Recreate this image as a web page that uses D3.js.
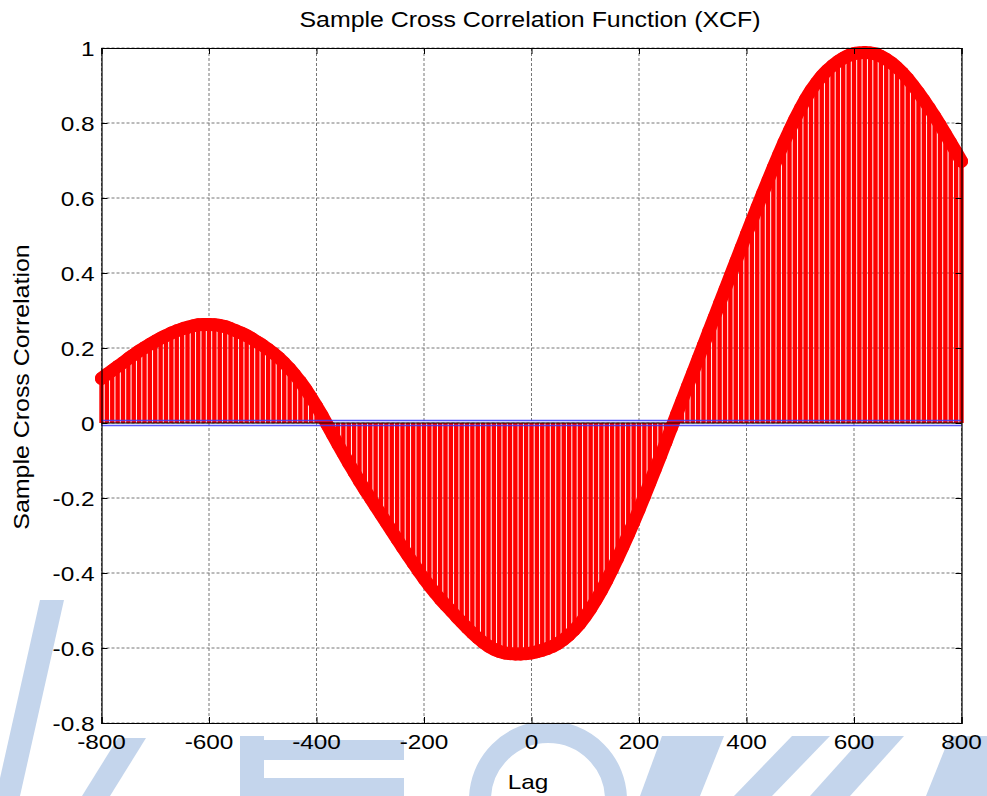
<!DOCTYPE html>
<html>
<head>
<meta charset="utf-8">
<script src="https://cdn.jsdelivr.net/npm/d3@7"></script>
<style>
  body { margin: 0; background: #fff; }
  svg { display: block; }
  text { font-family: Arial, "Liberation Sans", Helvetica, sans-serif; fill: #000; }
</style>
</head>
<body>
<svg width="987" height="796"></svg>
<script>
"use strict";

var lags = [
    -800, -790, -780, -770, -760, -750, -740, -730, -720, -710,
    -700, -690, -680, -670, -660, -650, -640, -630, -620, -610,
    -600, -590, -580, -570, -560, -550, -540, -530, -520, -510,
    -500, -490, -480, -470, -460, -450, -440, -430, -420, -410,
    -400, -390, -380, -370, -360, -350, -340, -330, -320, -310,
    -300, -290, -280, -270, -260, -250, -240, -230, -220, -210,
    -200, -190, -180, -170, -160, -150, -140, -130, -120, -110,
    -100, -90, -80, -70, -60, -50, -40, -30, -20, -10,
    0, 10, 20, 30, 40, 50, 60, 70, 80, 90,
    100, 110, 120, 130, 140, 150, 160, 170, 180, 190,
    200, 210, 220, 230, 240, 250, 260, 270, 280, 290,
    300, 310, 320, 330, 340, 350, 360, 370, 380, 390,
    400, 410, 420, 430, 440, 450, 460, 470, 480, 490,
    500, 510, 520, 530, 540, 550, 560, 570, 580, 590,
    600, 610, 620, 630, 640, 650, 660, 670, 680, 690,
    700, 710, 720, 730, 740, 750, 760, 770, 780, 790,
    800
];

var xcf = [
    0.119, 0.130, 0.140, 0.151, 0.161, 0.172, 0.182, 0.192, 0.201, 0.210,
    0.218, 0.226, 0.233, 0.240, 0.246, 0.251, 0.255, 0.259, 0.262, 0.263,
    0.263, 0.262, 0.260, 0.257, 0.252, 0.246, 0.240, 0.233, 0.225, 0.216,
    0.207, 0.197, 0.186, 0.174, 0.160, 0.145, 0.128, 0.110, 0.090, 0.068,
    0.045, 0.021, -0.005, -0.031, -0.057, -0.082, -0.107, -0.131, -0.155, -0.178,
    -0.200, -0.222, -0.244, -0.266, -0.288, -0.310, -0.332, -0.353, -0.374, -0.395,
    -0.415, -0.434, -0.452, -0.469, -0.485, -0.500, -0.516, -0.531, -0.546, -0.560,
    -0.573, -0.585, -0.595, -0.603, -0.609, -0.613, -0.615, -0.616, -0.616, -0.615,
    -0.613, -0.610, -0.606, -0.601, -0.595, -0.587, -0.577, -0.565, -0.551, -0.535,
    -0.516, -0.495, -0.472, -0.447, -0.420, -0.391, -0.361, -0.330, -0.298, -0.265,
    -0.231, -0.196, -0.160, -0.124, -0.088, -0.051, -0.014, 0.023, 0.060, 0.097,
    0.134, 0.171, 0.208, 0.245, 0.282, 0.319, 0.356, 0.393, 0.430, 0.467,
    0.504, 0.540, 0.576, 0.612, 0.647, 0.682, 0.716, 0.749, 0.780, 0.810,
    0.838, 0.864, 0.887, 0.907, 0.925, 0.940, 0.953, 0.964, 0.973, 0.980,
    0.985, 0.987, 0.988, 0.987, 0.984, 0.978, 0.970, 0.960, 0.948, 0.934,
    0.918, 0.900, 0.881, 0.861, 0.840, 0.818, 0.795, 0.771, 0.747, 0.723,
    0.698
];

// confidence bounds (upper, lower)
var bounds = [0.0065, -0.0065];

var xTicks = [-800, -600, -400, -200, 0, 200, 400, 600, 800];
var yTicks = [-0.8, -0.6, -0.4, -0.2, 0, 0.2, 0.4, 0.6, 0.8, 1];

var titleText = 'Sample Cross Correlation Function (XCF)';
var xLabelText = 'Lag';
var yLabelText = 'Sample Cross Correlation';

var plotL = 101.5, plotR = 961.5, plotT = 48, plotB = 723;
var stretch = 1.16;

var x = d3.scaleLinear().domain([-800, 800]).range([plotL, plotR]);
var y = d3.scaleLinear().domain([-0.8, 1]).range([plotB, plotT]);

var points = lags.map(function (lag, i) {
    return { lag: lag, v: xcf[i] };
});

var svg = d3.select('svg');

svg.append('rect')
    .attr('width', 987)
    .attr('height', 796)
    .attr('fill', '#fff');

// faint logo watermark behind the figure (rough)
var wm = svg.append('g')
    .attr('fill', '#c4d5ec')
    .attr('stroke', 'none');
wm.append('path').attr('d', 'M40,600 L64,600 L20,796 L-4,796 Z');
wm.append('path').attr('d', 'M118,738 L146,738 L110,796 L82,796 Z');
wm.append('rect').attr('x', 240).attr('y', 736).attr('width', 24).attr('height', 60);
wm.append('rect').attr('x', 264).attr('y', 740).attr('width', 140).attr('height', 20);
wm.append('rect').attr('x', 264).attr('y', 778).attr('width', 140).attr('height', 18);
wm.append('circle').attr('cx', 548).attr('cy', 800).attr('r', 68)
    .attr('fill', 'none').attr('stroke', '#c4d5ec').attr('stroke-width', 22);
wm.append('path').attr('d', 'M662,736 L724,736 L700,796 L640,796 Z');
wm.append('path').attr('d', 'M792,736 L830,736 L772,796 L734,796 Z');
wm.append('path').attr('d', 'M864,736 L904,736 L850,796 L810,796 Z');
wm.append('path').attr('d', 'M950,736 L987,736 L987,796 L926,796 Z');

// plot area
svg.append('rect')
    .attr('x', plotL)
    .attr('y', plotT)
    .attr('width', plotR - plotL)
    .attr('height', plotB - plotT)
    .attr('fill', '#fff');

// Grid
var grid = svg.append('g').attr('class', 'grid');
grid.selectAll('line.gx')
    .data(xTicks)
    .enter()
    .append('line')
    .attr('x1', function (d) { return x(d); })
    .attr('x2', function (d) { return x(d); })
    .attr('y1', plotT)
    .attr('y2', plotB);
grid.selectAll('line.gy')
    .data(yTicks)
    .enter()
    .append('line')
    .attr('x1', plotL)
    .attr('x2', plotR)
    .attr('y1', function (d) { return y(d); })
    .attr('y2', function (d) { return y(d); });
grid.selectAll('line')
    .attr('stroke', '#777')
    .attr('stroke-width', 1)
    .attr('stroke-dasharray', '3,2');

// Stems
svg.append('g')
    .selectAll('line.stem')
    .data(points)
    .enter()
    .append('line')
    .classed('stem', true)
    .attr('x1', function (d) { return x(d.lag); })
    .attr('x2', function (d) { return x(d.lag); })
    .attr('y1', y(0))
    .attr('y2', function (d) { return y(d.v); })
    .attr('stroke', '#ff0000')
    .attr('stroke-width', 4.4);

// Markers: the dense circles merge into one thick band
var band = d3.line()
    .x(function (d) { return x(d.lag); })
    .y(function (d) { return y(d.v); })
    .curve(d3.curveMonotoneX);

svg.append('path')
    .datum(points)
    .attr('d', band)
    .attr('fill', 'none')
    .attr('stroke', '#ff0000')
    .attr('stroke-width', 13)
    .attr('stroke-linejoin', 'round')
    .attr('stroke-linecap', 'round');

svg.append('g')
    .selectAll('circle.marker')
    .data(points)
    .enter()
    .append('circle')
    .classed('marker', true)
    .attr('cx', function (d) { return x(d.lag); })
    .attr('cy', function (d) { return y(d.v); })
    .attr('r', 6.5)
    .attr('fill', '#ff0000');

// Baseline
svg.append('line')
    .attr('x1', plotL)
    .attr('x2', plotR)
    .attr('y1', y(0))
    .attr('y2', y(0))
    .attr('stroke', '#000')
    .attr('stroke-width', 1);

// Bounds
svg.append('g')
    .selectAll('line.bound')
    .data(bounds)
    .enter()
    .append('line')
    .classed('bound', true)
    .attr('x1', plotL)
    .attr('x2', plotR)
    .attr('y1', function (d) { return y(d); })
    .attr('y2', function (d) { return y(d); })
    .attr('stroke', '#3c3cff')
    .attr('stroke-opacity', 0.85)
    .attr('stroke-width', 1.4);

// Axes
var xAxisB = d3.axisBottom(x).tickValues(xTicks).tickSize(-6).tickFormat('');
var xAxisT = d3.axisTop(x).tickValues(xTicks).tickSize(-6).tickFormat('');
var yAxisL = d3.axisLeft(y).tickValues(yTicks).tickSize(-6).tickFormat('');
var yAxisR = d3.axisRight(y).tickValues(yTicks).tickSize(-6).tickFormat('');

svg.append('g').attr('transform', 'translate(0,' + plotB + ')').call(xAxisB);
svg.append('g').attr('transform', 'translate(0,' + plotT + ')').call(xAxisT);
svg.append('g').attr('transform', 'translate(' + plotL + ',0)').call(yAxisL);
svg.append('g').attr('transform', 'translate(' + plotR + ',0)').call(yAxisR);
svg.selectAll('.domain').attr('stroke', '#000').attr('stroke-width', 1.2);
svg.selectAll('.tick line').attr('stroke', '#000');

// Tick labels
svg.append('g')
    .selectAll('text.xt')
    .data(xTicks)
    .enter()
    .append('text')
    .attr('transform', function (d) {
        return 'translate(' + x(d) + ',' + (plotB + 26) + ') scale(' + stretch + ',1)';
    })
    .attr('text-anchor', 'middle')
    .attr('font-size', 21)
    .text(function (d) { return d; });

svg.append('g')
    .selectAll('text.yt')
    .data(yTicks)
    .enter()
    .append('text')
    .attr('transform', function (d) {
        return 'translate(' + (plotL - 7) + ',' + (y(d) + 8) + ') scale(' + stretch + ',1)';
    })
    .attr('text-anchor', 'end')
    .attr('font-size', 21)
    .text(function (d) { return d; });

// Titles
svg.append('text')
    .attr('transform', 'translate(530,27) scale(' + stretch + ',1)')
    .attr('text-anchor', 'middle')
    .attr('font-size', 21.5)
    .text(titleText);

svg.append('text')
    .attr('transform', 'translate(528,789) scale(' + stretch + ',1)')
    .attr('text-anchor', 'middle')
    .attr('font-size', 21)
    .text(xLabelText);

svg.append('text')
    .attr('transform', 'translate(29,387) rotate(-90) scale(' + stretch + ',1)')
    .attr('text-anchor', 'middle')
    .attr('font-size', 21.5)
    .text(yLabelText);
</script>
</body>
</html>
